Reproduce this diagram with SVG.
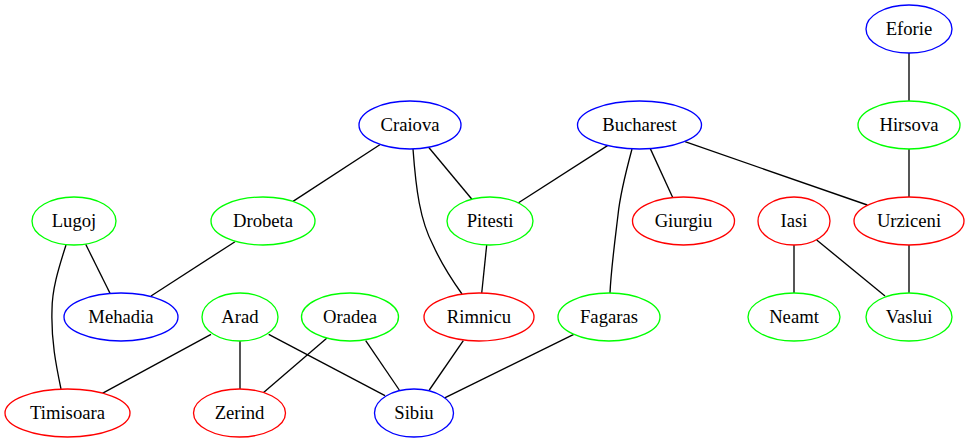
<svg xmlns="http://www.w3.org/2000/svg" width="969" height="443" viewBox="0 0 969 443">
<style>
.n ellipse{fill:#fff;stroke-width:1.33}
.b ellipse{stroke:#0000ff}
.g ellipse{stroke:#00ff00}
.r ellipse{stroke:#ff0000}
.n text{font-family:"Liberation Serif","Times New Roman",serif;font-size:18.67px;fill:#000;text-anchor:middle}
#edges path,#edges line{stroke:#000;stroke-width:1.33;fill:none}
</style>
<rect width="969" height="443" fill="#fff"/>
<g id="edges">
<line x1="909" y1="53" x2="909" y2="101"/>
<line x1="909" y1="149" x2="909" y2="197"/>
<line x1="380.2" y1="144.5" x2="293" y2="201.4"/>
<line x1="428.6" y1="147.3" x2="471.9" y2="199.2"/>
<path d="M413,149 C416,190 420,220 433,245 C442,265 452,280 462,294"/>
<line x1="607.5" y1="145.6" x2="518.5" y2="202.7"/>
<line x1="650.3" y1="148.6" x2="672.7" y2="197.5"/>
<line x1="685" y1="141.7" x2="867.3" y2="205"/>
<path d="M632,149 C625,175 620,195 618,215 C615,240 611,270 610,293"/>
<line x1="85.7" y1="244.3" x2="110" y2="293.3"/>
<path d="M66,245 C58,270 52,290 52,310 C51,340 56,365 61,389"/>
<line x1="235" y1="241.7" x2="151" y2="296"/>
<line x1="486.7" y1="245" x2="481.7" y2="293.3"/>
<line x1="794" y1="245" x2="794" y2="293"/>
<line x1="816.7" y1="240" x2="885" y2="296"/>
<line x1="909" y1="245" x2="909" y2="293"/>
<line x1="211" y1="334.3" x2="102.3" y2="393.3"/>
<line x1="240" y1="341" x2="240" y2="389"/>
<line x1="268.7" y1="334.3" x2="385" y2="395.7"/>
<line x1="326.7" y1="338.3" x2="263.3" y2="392.7"/>
<line x1="365.7" y1="340.7" x2="399.3" y2="390"/>
<line x1="463.3" y1="340.7" x2="429.3" y2="390"/>
<line x1="573.8" y1="334.3" x2="444.7" y2="397.9"/>
</g>
<g id="Eforie" class="n b"><ellipse cx="909" cy="29" rx="43" ry="24"/><text x="909" y="35">Eforie</text></g>
<g id="Hirsova" class="n g"><ellipse cx="909" cy="125" rx="51" ry="24"/><text x="909" y="131">Hirsova</text></g>
<g id="Craiova" class="n b"><ellipse cx="410" cy="125" rx="51" ry="24"/><text x="410" y="131">Craiova</text></g>
<g id="Bucharest" class="n b"><ellipse cx="639.5" cy="125" rx="62" ry="24"/><text x="639.5" y="131">Bucharest</text></g>
<g id="Lugoj" class="n g"><ellipse cx="74" cy="221" rx="42" ry="24"/><text x="74" y="227">Lugoj</text></g>
<g id="Drobeta" class="n g"><ellipse cx="263" cy="221" rx="52" ry="24"/><text x="263" y="227">Drobeta</text></g>
<g id="Pitesti" class="n g"><ellipse cx="490" cy="221" rx="43" ry="24"/><text x="490" y="227">Pitesti</text></g>
<g id="Giurgiu" class="n r"><ellipse cx="683.5" cy="221" rx="51" ry="24"/><text x="683.5" y="227">Giurgiu</text></g>
<g id="Iasi" class="n r"><ellipse cx="794" cy="221" rx="36" ry="24"/><text x="794" y="227">Iasi</text></g>
<g id="Urziceni" class="n r"><ellipse cx="909" cy="221" rx="55" ry="24"/><text x="909" y="227">Urziceni</text></g>
<g id="Mehadia" class="n b"><ellipse cx="121" cy="317" rx="57" ry="24"/><text x="121" y="323">Mehadia</text></g>
<g id="Arad" class="n g"><ellipse cx="240" cy="317" rx="38" ry="24"/><text x="240" y="323">Arad</text></g>
<g id="Oradea" class="n g"><ellipse cx="350" cy="317" rx="48.5" ry="24"/><text x="350" y="323">Oradea</text></g>
<g id="Rimnicu" class="n r"><ellipse cx="479" cy="317" rx="55" ry="24"/><text x="479" y="323">Rimnicu</text></g>
<g id="Fagaras" class="n g"><ellipse cx="609" cy="317" rx="51" ry="24"/><text x="609" y="323">Fagaras</text></g>
<g id="Neamt" class="n g"><ellipse cx="794" cy="317" rx="46" ry="24"/><text x="794" y="323">Neamt</text></g>
<g id="Vaslui" class="n g"><ellipse cx="909" cy="317" rx="43" ry="24"/><text x="909" y="323">Vaslui</text></g>
<g id="Timisoara" class="n r"><ellipse cx="67.5" cy="413" rx="62.5" ry="24"/><text x="67.5" y="419">Timisoara</text></g>
<g id="Zerind" class="n r"><ellipse cx="239.5" cy="413" rx="46" ry="24"/><text x="239.5" y="419">Zerind</text></g>
<g id="Sibiu" class="n b"><ellipse cx="414" cy="413" rx="39.5" ry="24"/><text x="414" y="419">Sibiu</text></g>
</svg>
